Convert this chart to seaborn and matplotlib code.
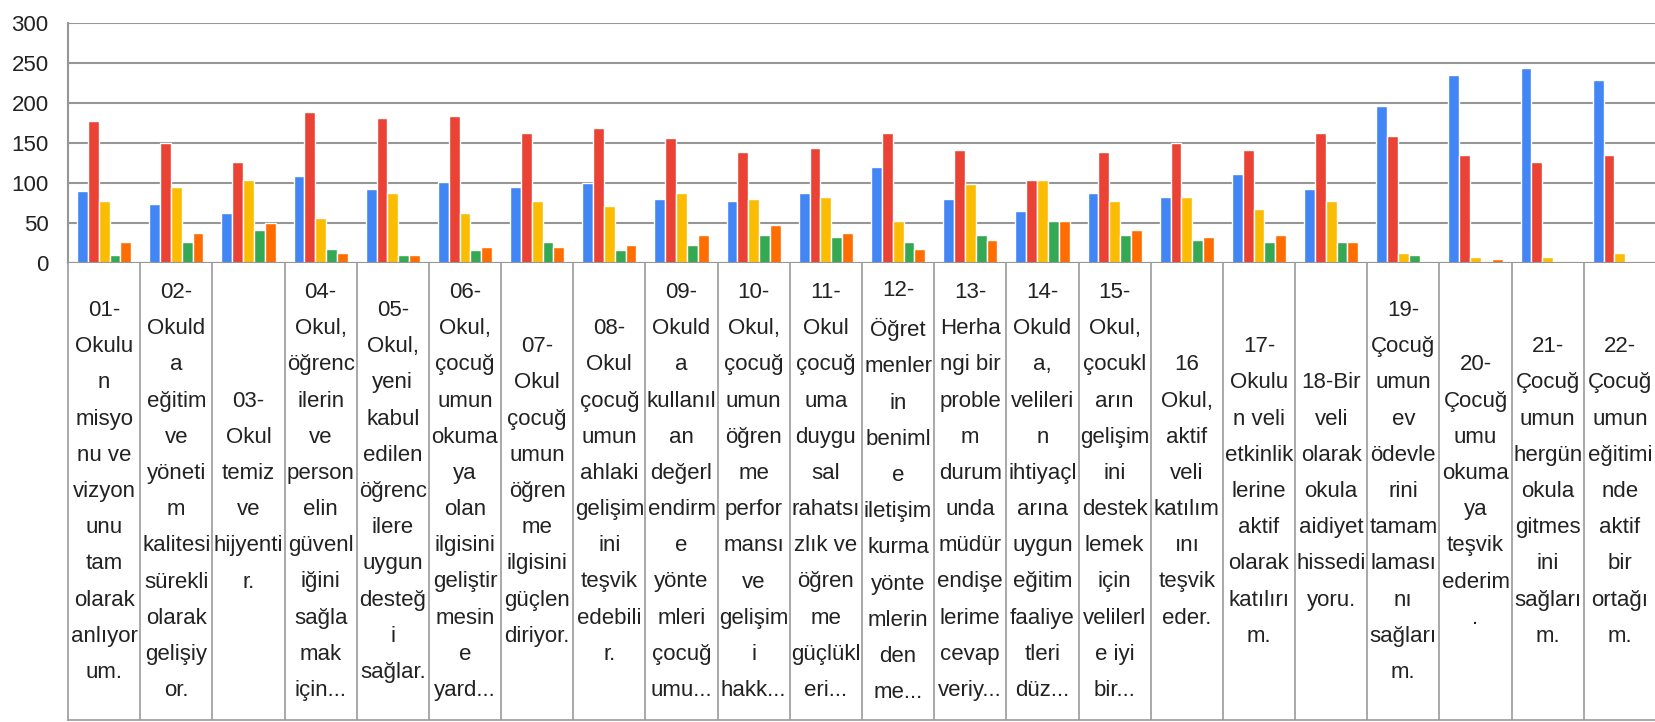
import pandas as pd
import numpy as np
import matplotlib
matplotlib.use("Agg")
import matplotlib.pyplot as plt
import seaborn as sns

sns.set_style("white")
plt.rcParams['font.family'] = ['Liberation Sans', 'DejaVu Sans']

# category labels, wrapped the same way as in the original table
labels = [
    "01-\nOkulu\nn\nmisyo\nnu ve\nvizyon\nunu\ntam\nolarak\nanlıyor\num.",
    "02-\nOkuld\na\neğitim\nve\nyöneti\nm\nkalitesi\nsürekli\nolarak\ngelişiy\nor.",
    "03-\nOkul\ntemiz\nve\nhijyenti\nr.",
    "04-\nOkul,\nöğrenc\nilerin\nve\nperson\nelin\ngüvenl\niğini\nsağla\nmak\niçin...",
    "05-\nOkul,\nyeni\nkabul\nedilen\nöğrenc\nilere\nuygun\ndesteğ\ni\nsağlar.",
    "06-\nOkul,\nçocuğ\numun\nokuma\nya\nolan\nilgisini\ngeliştir\nmesin\ne\nyard...",
    "07-\nOkul\nçocuğ\numun\nöğren\nme\nilgisini\ngüçlen\ndiriyor.",
    "08-\nOkul\nçocuğ\numun\nahlaki\ngelişim\nini\nteşvik\nedebili\nr.",
    "09-\nOkuld\na\nkullanıl\nan\ndeğerl\nendirm\ne\nyönte\nmleri\nçocuğ\numu...",
    "10-\nOkul,\nçocuğ\numun\nöğren\nme\nperfor\nmansı\nve\ngelişim\ni\nhakk...",
    "11-\nOkul\nçocuğ\numa\nduygu\nsal\nrahatsı\nzlık ve\nöğren\nme\ngüçlükl\neri...",
    "12-\nÖğret\nmenler\nin\nbeniml\ne\niletişim\nkurma\nyönte\nmlerin\nden\nme...",
    "13-\nHerha\nngi bir\nproble\nm\ndurum\nunda\nmüdür\nendişe\nlerime\ncevap\nveriy...",
    "14-\nOkuld\na,\nvelileri\nn\nihtiyaçl\narına\nuygun\neğitim\nfaaliye\ntleri\ndüz...",
    "15-\nOkul,\nçocukl\narın\ngelişim\nini\ndestek\nlemek\niçin\nvelilerl\ne iyi\nbir...",
    "16\nOkul,\naktif\nveli\nkatılım\nını\nteşvik\neder.",
    "17-\nOkulu\nn veli\netkinlik\nlerine\naktif\nolarak\nkatılırı\nm.",
    "18-Bir\nveli\nolarak\nokula\naidiyet\nhissedi\nyoru.",
    "19-\nÇocuğ\numun\nev\nödevle\nrini\ntamam\nlaması\nnı\nsağları\nm.",
    "20-\nÇocuğ\numu\nokuma\nya\nteşvik\nederim\n.",
    "21-\nÇocuğ\numun\nhergün\nokula\ngitmes\nini\nsağları\nm.",
    "22-\nÇocuğ\numun\neğitimi\nnde\naktif\nbir\nortağı\nm.",
]

series = ["Kesinlikle katılıyorum", "Katılıyorum", "Kararsızım",
          "Katılmıyorum", "Kesinlikle katılmıyorum"]
blue = [90, 74, 62, 108, 92, 101, 95, 100, 80, 78, 87, 120, 80, 65, 87, 83, 111, 92, 196, 235, 244, 229]
red = [177, 150, 126, 189, 181, 184, 162, 168, 156, 138, 144, 162, 141, 104, 138, 150, 141, 162, 159, 135, 126, 135]
yellow = [78, 95, 104, 56, 87, 62, 78, 71, 87, 80, 83, 53, 99, 104, 78, 83, 68, 78, 13, 8, 8, 13]
green = [10, 26, 41, 17, 10, 16, 26, 16, 22, 35, 32, 26, 35, 53, 35, 29, 26, 26, 10, 0, 0, 0]
orange = [26, 38, 50, 13, 10, 20, 20, 22, 35, 47, 38, 17, 29, 53, 41, 32, 35, 26, 0, 5, 0, 0]
colors = ["#4285F4", "#EA4335", "#FBBC04", "#34A853", "#FF6D01"]

ids = [l.split("\n")[0] for l in labels]
df = pd.DataFrame({"kat": ids * 5,
                   "seri": np.repeat(series, len(ids)),
                   "deger": blue + red + yellow + green + orange})

W, H = 1656, 722
fig = plt.figure(figsize=(W / 100, H / 100), dpi=100)
x0, x1 = 68 / W, 1.0
ytop, ybase, ybot = 22.7, 263, 720
ax = fig.add_axes([x0, 1 - ybase / H, x1 - x0, (ybase - ytop) / H])
tab = fig.add_axes([x0, 1 - ybot / H, x1 - x0, (ybot - ybase) / H])

sns.barplot(data=df, x="kat", y="deger", hue="seri", palette=colors,
            width=0.75, saturation=1, errorbar=None, legend=False, ax=ax)

ax.set_xlim(-0.5, len(ids) - 0.5)
ax.set_ylim(0, 300)
ax.set_yticks(range(0, 301, 50))
ax.set_xticks([])
ax.set_xlabel("")
ax.set_ylabel("")
ax.yaxis.grid(True, color="#969696", lw=1.5)
ax.set_axisbelow(True)
ax.tick_params(axis="y", length=0, pad=14, labelsize=16, labelcolor="#222222")
for s in ["top", "right"]:
    ax.spines[s].set_visible(False)
for s in ["left", "bottom"]:
    ax.spines[s].set_color("#969696")
    ax.spines[s].set_linewidth(1.5)

# table of category labels below the axis
tab.set_xlim(-0.5, len(ids) - 0.5)
tab.set_ylim(0, 1)
tab.set_xticks([])
tab.set_yticks([])
for s in ["top", "right"]:
    tab.spines[s].set_visible(False)
for s in ["left", "bottom"]:
    tab.spines[s].set_color("#9a9a9a")
    tab.spines[s].set_linewidth(1.2)
for b in np.arange(0.5, len(ids) - 0.5, 1):
    tab.axvline(b, color="#9a9a9a", lw=1.2)
for i, lab in enumerate(labels):
    tab.text(i, 0.5, lab, ha="center", va="center", multialignment="center",
             fontsize=16, linespacing=1.95, color="#222222")

fig.savefig("out.png", dpi=100)
